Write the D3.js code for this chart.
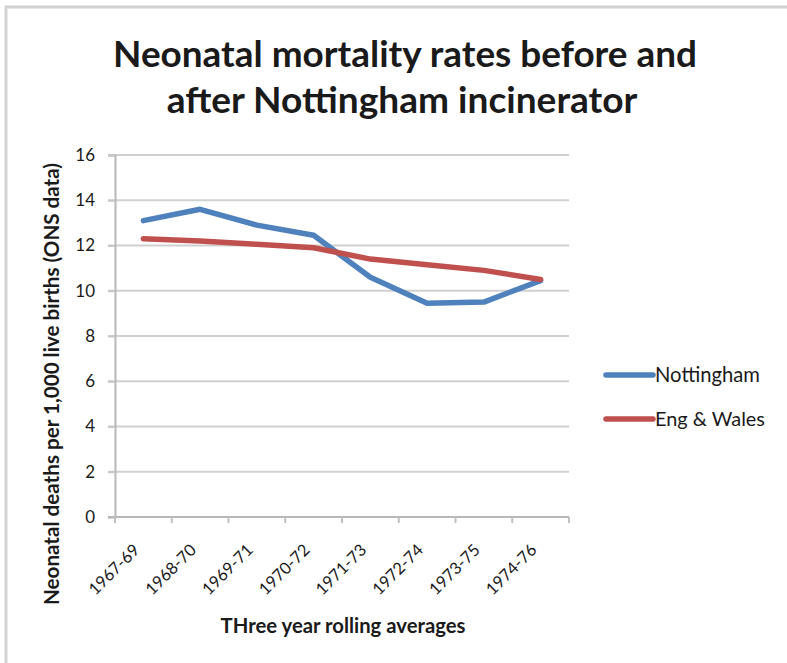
<!DOCTYPE html>
<html>
<head>
<meta charset="utf-8">
<script src="https://cdn.jsdelivr.net/npm/d3@7"></script>
<style>
  html, body { margin: 0; padding: 0; background: #fff; }
  svg { display: block; }
  text { font-family: Lato, "Open Sans", "Noto Sans", sans-serif; fill: #1a1a1a; }
</style>
</head>
<body>
<script>
const categories = ["1967-69", "1968-70", "1969-71", "1970-72", "1971-73", "1972-74", "1973-75", "1974-76"];
const nottingham = [13.1, 13.6, 12.9, 12.45, 10.6, 9.45, 9.5, 10.45];
const engWales = [12.3, 12.2, 12.05, 11.9, 11.4, 11.15, 10.9, 10.5];
const seriesNames = ["Nottingham", "Eng & Wales"];
const yTicks = [0, 2, 4, 6, 8, 10, 12, 14, 16];
const titleLines = ["Neonatal mortality rates before and", "after Nottingham incinerator"];
const yTitle = "Neonatal deaths per 1,000 live births (ONS data)";
const xTitle = "THree year rolling averages";

const W = 787, H = 663;
const colors = ["#4F81BD", "#C0504D"];
const plot = { left: 115, right: 569, top: 155, bottom: 517 };

const svg = d3.select("body").append("svg").attr("width", W).attr("height", H);

// outer frame (partially cropped)
svg.append("path")
  .attr("d", `M6,${H + 5} L6,7 L${W + 5},7`)
  .attr("fill", "none").attr("stroke", "#d2d2d2").attr("stroke-width", 3);

// helper: fit text to a target width
function fit(sel, size, width) {
  sel.style("font-size", size + "px");
  const w = sel.node().getComputedTextLength();
  sel.style("font-size", (size * width / w).toFixed(2) + "px");
  return sel;
}

const x = d3.scaleBand().domain(categories).range([plot.left, plot.right]).padding(0);
const y = d3.scaleLinear().domain([0, 16]).range([plot.bottom, plot.top]);

// gridlines
svg.append("g").selectAll("line").data(yTicks.filter(d => d > 0)).join("line")
  .attr("x1", plot.left - 7).attr("x2", plot.right)
  .attr("y1", d => y(d)).attr("y2", d => y(d))
  .attr("stroke", "#d0d0d0").attr("stroke-width", 2);

// y axis
const yAxis = svg.append("g").attr("transform", `translate(${plot.left},0)`)
  .call(d3.axisLeft(y).tickValues(yTicks).tickSize(7).tickPadding(13));
yAxis.select(".domain").attr("stroke", "#b8b8b8").attr("stroke-width", 2);
yAxis.selectAll(".tick line").attr("stroke", "#c8c8c8").attr("stroke-width", 2);
yAxis.selectAll(".tick text").style("font-size", "17px").style("font-family", "Lato, sans-serif").attr("fill", "#222");

// x axis baseline + boundary ticks
const xg = svg.append("g");
xg.append("line").attr("x1", plot.left - 7).attr("x2", plot.right)
  .attr("y1", y(0)).attr("y2", y(0)).attr("stroke", "#b8b8b8").attr("stroke-width", 2);
const bounds = categories.map(c => x(c)).concat([x(categories[categories.length - 1]) + x.bandwidth()]);
xg.selectAll("line.bt").data(bounds).join("line").attr("class", "bt")
  .attr("x1", d => d).attr("x2", d => d)
  .attr("y1", y(0)).attr("y2", y(0) + 6)
  .attr("stroke", "#c0c0c0").attr("stroke-width", 2);

// x labels via axis
const xAxis = svg.append("g").attr("transform", `translate(0,${plot.bottom})`)
  .call(d3.axisBottom(x).tickSize(0).tickPadding(0));
xAxis.select(".domain").remove();
xAxis.selectAll(".tick text")
  .style("font-size", "16.5px").style("font-family", "Lato, sans-serif").attr("fill", "#222")
  .attr("text-anchor", "end").attr("dy", "0.35em")
  .attr("transform", "translate(-7,30) rotate(-45)");

// lines
const series = [nottingham, engWales];
const line = d3.line().x((d, i) => x(categories[i]) + x.bandwidth() / 2).y(d => y(d));
svg.append("g").selectAll("path").data(series).join("path")
  .attr("d", d => line(d))
  .attr("fill", "none")
  .attr("stroke", (d, i) => colors[i])
  .attr("stroke-width", 5.5)
  .attr("stroke-linejoin", "round").attr("stroke-linecap", "round");

// title
const tg = svg.append("g");
fit(tg.append("text").attr("x", 405).attr("y", 67).attr("text-anchor", "middle")
  .style("font-weight", "bold").text(titleLines[0]), 28, 584);
fit(tg.append("text").attr("x", 402).attr("y", 113).attr("text-anchor", "middle")
  .style("font-weight", "bold").text(titleLines[1]), 28, 471);

// y title
fit(svg.append("text").attr("transform", "translate(59,384) rotate(-90)")
  .attr("text-anchor", "middle").style("font-weight", "bold").text(yTitle), 15, 442);

// x title
fit(svg.append("text").attr("x", 343).attr("y", 633).attr("text-anchor", "middle")
  .style("font-weight", "bold").text(xTitle), 15, 245);

// legend
const lg = svg.append("g").selectAll("g").data(seriesNames).join("g")
  .attr("transform", (d, i) => `translate(606,${375 + i * 44})`);
lg.append("line").attr("x1", 0).attr("x2", 47).attr("y1", 0).attr("y2", 0)
  .attr("stroke", (d, i) => colors[i]).attr("stroke-width", 5.5).attr("stroke-linecap", "round");
lg.each(function (d, i) {
  const t = d3.select(this).append("text").attr("x", 49).attr("y", 0).attr("dy", "0.35em")
    .attr("fill", "#222").text(d);
  fit(t, 16, i === 0 ? 105 : 110);
});
</script>
</body>
</html>
